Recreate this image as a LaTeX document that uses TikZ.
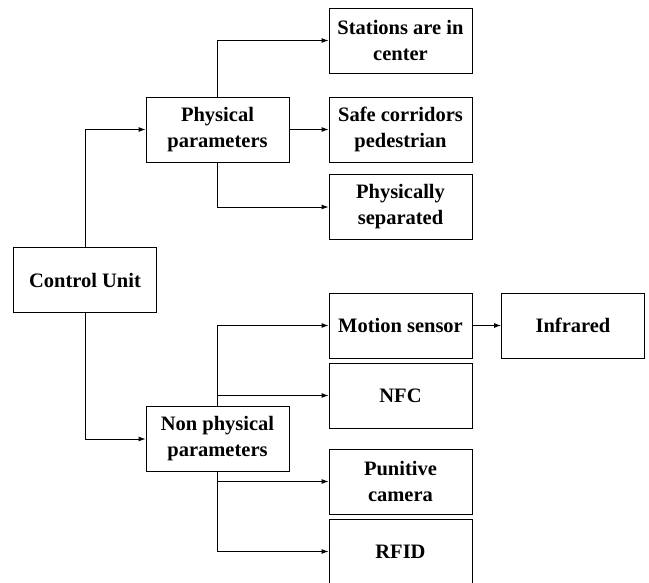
\documentclass[tikz,border=0pt]{standalone}
\usepackage{fontspec}
\setmainfont{Liberation Serif}
\usetikzlibrary{arrows.meta}
\begin{document}
\begin{tikzpicture}[x=1pt,y=-1pt,
  box/.style={draw,line width=0.9pt,fill=white,minimum width=143pt,minimum height=65pt,inner sep=0pt,align=center,font=\fontsize{20.5}{26}\selectfont\bfseries},
  conn/.style={line width=0.9pt,-{Latex[length=7pt,width=5pt]}}]
\useasboundingbox (0,0) rectangle (649,583);
\node[box] (CU) at (85,280) {Control Unit};
\node[box] (PP) at (217.5,129.5) {Physical\\parameters};
\node[box] (NPP) at (217.5,439) {Non physical\\parameters};
\node[box] (ST) at (400.5,40.5) {Stations are in\\center};
\node[box] (SC) at (400.5,129.5) {Safe corridors\\pedestrian};
\node[box] (PS) at (400.5,207) {Physically\\separated};
\node[box] (MS) at (400.5,325.5) {Motion sensor};
\node[box] (NFC) at (400.5,395.5) {NFC};
\node[box] (PC) at (400.5,481.5) {Punitive\\camera};
\node[box] (RF) at (400.5,551.5) {RFID};
\node[box] (IR) at (573,325.5) {Infrared};
\draw[conn] (CU.north) |- (PP.west);
\draw[conn] (CU.south) |- (NPP.west);
\draw[conn] (PP.north) |- (ST.west);
\draw[conn] (PP.east) -- (SC.west);
\draw[conn] (PP.south) |- (PS.west);
\draw[conn] (NPP.north) |- (MS.west);
\draw[conn] (NPP.north) |- (NFC.west);
\draw[conn] (NPP.south) |- (PC.west);
\draw[conn] (NPP.south) |- (RF.west);
\draw[conn] (MS.east) -- (IR.west);
\end{tikzpicture}
\end{document}
